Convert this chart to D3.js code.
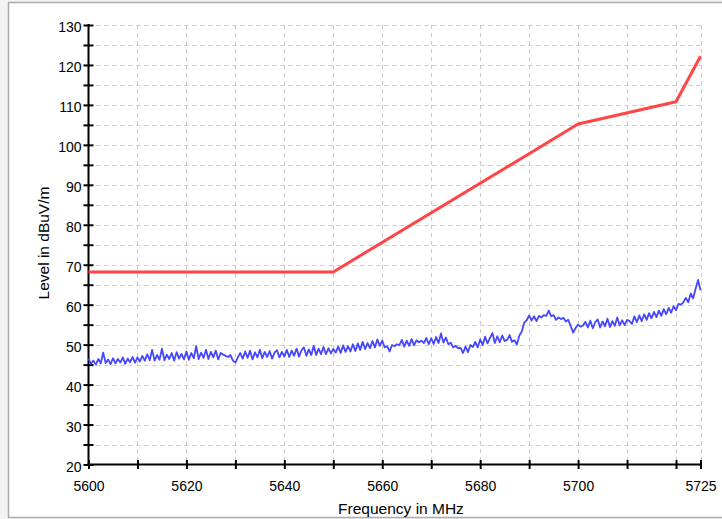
<!DOCTYPE html>
<html>
<head>
<meta charset="utf-8">
<script src="https://cdn.jsdelivr.net/npm/d3@7"></script>
<style>
  html, body { margin: 0; padding: 0; background: #f3f3f3; }
  svg { display: block; }
</style>
</head>
<body>
<svg id="chart" width="722" height="519"></svg>
<script>
// ---- data ----
const xTicks = [5600, 5610, 5620, 5630, 5640, 5650, 5660, 5670, 5680, 5690, 5700, 5710, 5720, 5725];
const xTickLabels = [5600, 5620, 5640, 5660, 5680, 5700, 5725];
const yTicks = [20, 25, 30, 35, 40, 45, 50, 55, 60, 65, 70, 75, 80, 85, 90, 95, 100, 105, 110, 115, 120, 125, 130];
const yTickLabels = [20, 30, 40, 50, 60, 70, 80, 90, 100, 110, 120, 130];

const limitFreq = [5600, 5650, 5700, 5720, 5725];
const limitLevel = [68.2, 68.2, 105.2, 110.8, 122.2];

const measStart = 5600;
const measStep = 0.5;
const measLevel = [
  46.5,45.2,46.0,45.0,46.4,45.3,48.0,45.4,46.3,45.1,46.6,45.3,46.4,45.5,46.8,45.2,46.5,45.6,46.9,45.5,
  46.8,45.8,47.2,46.0,47.6,46.1,48.7,46.0,47.4,46.2,49.0,46.1,47.5,46.4,47.9,46.0,48.1,46.5,47.7,46.3,
  48.3,46.2,47.9,46.6,49.6,46.4,48.0,46.7,48.7,46.4,48.2,46.8,48.5,46.3,47.9,47.5,47.2,46.9,47.4,46.0,
  45.5,46.8,47.9,46.5,48.3,46.7,48.5,46.3,48.1,46.8,48.7,46.6,48.2,46.9,48.4,46.5,48.0,48.6,46.8,48.2,
  47.0,48.7,46.9,48.5,47.2,49.0,47.0,48.6,49.3,47.2,48.8,47.4,49.7,47.4,49.0,47.6,49.4,47.6,49.1,47.8,
  48.9,48.0,49.5,47.9,49.8,48.2,49.6,48.3,50.1,48.4,50.3,48.7,50.7,48.9,50.4,49.1,50.9,49.3,51.3,49.7,
  51.0,49.3,49.6,48.3,49.9,49.6,50.1,49.9,51.2,49.5,51.0,49.7,51.4,49.8,51.1,50.6,51.0,50.4,51.7,50.1,
  51.6,50.2,51.9,50.4,52.8,50.5,51.8,50.1,50.5,49.3,49.7,49.1,49.2,47.9,49.5,48.1,49.9,49.4,50.7,49.3,
  51.3,49.9,52.0,50.3,51.7,52.9,50.4,52.1,50.6,52.3,50.9,51.2,52.4,50.7,51.1,50.0,52.3,53.3,55.5,56.1,
  57.3,56.0,57.1,55.9,57.2,56.8,57.4,57.2,58.5,57.1,57.4,56.2,56.8,56.4,56.7,55.8,56.2,54.6,53.0,54.2,
  55.0,54.5,54.8,55.7,54.3,56.0,54.1,55.6,56.3,54.3,55.8,54.6,56.5,54.4,55.9,54.7,56.8,54.8,56.1,54.9,
  56.2,55.9,55.2,57.1,55.6,57.3,55.9,57.6,56.2,57.9,56.6,58.2,56.9,58.5,57.2,58.9,57.6,59.2,58.0,59.6,
  58.6,60.2,60.0,60.6,61.7,60.6,62.8,61.6,64.0,66.2,63.6
];

const xTitle = "Frequency in MHz";
const yTitle = "Level in dBuV/m";

// ---- layout ----
const svg = d3.select("#chart");
const font = "'Liberation Sans', Arial, sans-serif";

svg.append("rect").attr("x", 8.5).attr("y", 2.5).attr("width", 730).attr("height", 515)
  .attr("fill", "#ffffff").attr("stroke", "#ababab").attr("stroke-width", 1.5);

const x = d3.scaleLinear().domain([5600, 5725]).range([88.5, 700.5]);
const y = d3.scaleLinear().domain([20, 130]).range([464.5, 25]);

// grid
const grid = svg.append("g").attr("stroke", "#c9c9c9").attr("stroke-width", 1).attr("stroke-dasharray", "4,4");
grid.selectAll("line.h").data(yTicks.filter(d => d > 20)).join("line")
  .attr("x1", x(5600)).attr("x2", x(5725))
  .attr("y1", d => Math.round(y(d)) + 0.5).attr("y2", d => Math.round(y(d)) + 0.5);
grid.selectAll("line.v").data(xTicks.filter(d => d > 5600)).join("line")
  .attr("x1", d => Math.round(x(d)) + 0.5).attr("x2", d => Math.round(x(d)) + 0.5)
  .attr("y1", y(130)).attr("y2", y(20));

// axes
const yAxis = d3.axisLeft(y).tickValues(yTicks).tickSize(5).tickPadding(6)
  .tickFormat(d => yTickLabels.includes(d) ? d : "");
const gy = svg.append("g").attr("transform", `translate(${x(5600)},0)`).call(yAxis);
gy.select(".domain").remove();
gy.selectAll(".tick line").attr("x1", -5).attr("x2", 5).attr("stroke", "#000").attr("stroke-width", 2);
gy.selectAll(".tick text").attr("font-family", font).attr("font-size", 14).attr("fill", "#000")
  .attr("x", -7).attr("dy", "0.75em").attr("y", -4);

const xAxis = d3.axisBottom(x).tickValues(xTicks).tickSize(5)
  .tickFormat(d => xTickLabels.includes(d) ? d : "");
const gx = svg.append("g").attr("transform", `translate(0,${y(20)})`).call(xAxis);
gx.select(".domain").remove();
gx.selectAll(".tick line").attr("y1", -4.5).attr("y2", 4.5).attr("stroke", "#000").attr("stroke-width", 2);
gx.selectAll(".tick text").attr("font-family", font).attr("font-size", 14).attr("fill", "#000")
  .attr("y", 17).attr("dy", "0.71em");

// axis lines
svg.append("line").attr("x1", x(5600)).attr("x2", x(5600)).attr("y1", y(130) - 1).attr("y2", y(20) + 1)
  .attr("stroke", "#000").attr("stroke-width", 2);
svg.append("line").attr("x1", x(5600) - 1).attr("x2", x(5725) + 1).attr("y1", y(20)).attr("y2", y(20))
  .attr("stroke", "#000").attr("stroke-width", 2);

// titles
svg.append("text").attr("x", 401).attr("y", 514).attr("text-anchor", "middle")
  .attr("font-family", font).attr("font-size", 15.5).attr("fill", "#000").text(xTitle);
svg.append("text").attr("transform", "translate(49,243) rotate(-90)").attr("text-anchor", "middle")
  .attr("font-family", font).attr("font-size", 15.5).attr("fill", "#000").text(yTitle);

// measurement trace
const meas = measLevel.map((v, i) => [measStart + i * measStep, v]);
svg.append("path").datum(meas)
  .attr("d", d3.line().x(d => x(d[0])).y(d => y(d[1])))
  .attr("fill", "none").attr("stroke", "#4646ff").attr("stroke-width", 1.8).attr("stroke-linejoin", "round");

// limit line
const limit = limitFreq.map((f, i) => [f, limitLevel[i]]);
svg.append("path").datum(limit)
  .attr("d", d3.line().x(d => x(d[0])).y(d => y(d[1])))
  .attr("fill", "none").attr("stroke", "#ff4545").attr("stroke-width", 3).attr("stroke-linejoin", "round");
</script>
</body>
</html>
